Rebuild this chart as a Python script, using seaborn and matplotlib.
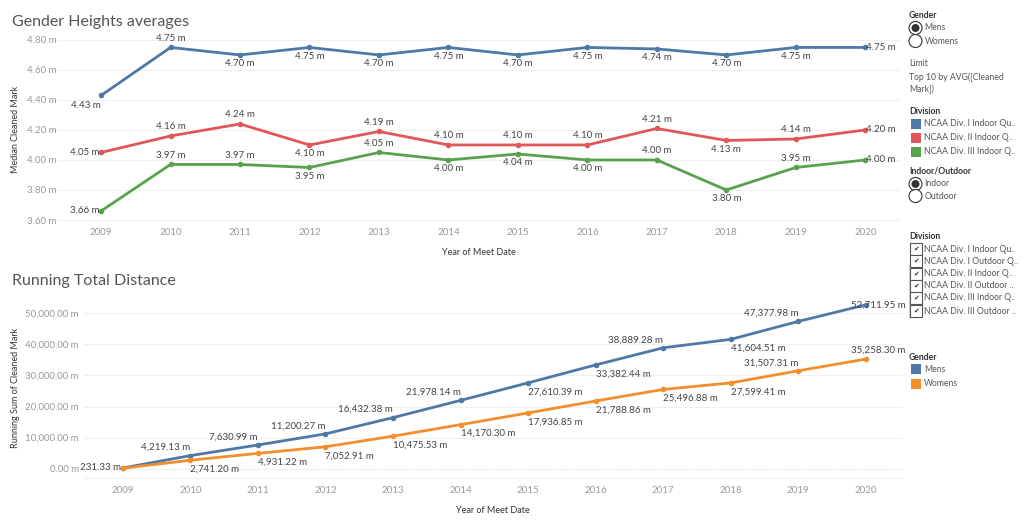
import pandas as pd
import matplotlib.pyplot as plt
import matplotlib.patches as mpatches
import seaborn as sns

# Data
years = list(range(2009, 2021))

div1_heights = [4.43, 4.75, 4.70, 4.75, 4.70, 4.75, 4.70, 4.75, 4.74, 4.70, 4.75, 4.75]
div2_heights = [4.05, 4.16, 4.24, 4.10, 4.19, 4.10, 4.10, 4.10, 4.21, 4.13, 4.14, 4.20]
div3_heights = [3.66, 3.97, 3.97, 3.95, 4.05, 4.00, 4.04, 4.00, 4.00, 3.80, 3.95, 4.00]
div1_pos = ['bR', 'a', 'b', 'b', 'b', 'b', 'b', 'b', 'b', 'b', 'b', 'r']
div2_pos = ['l', 'a', 'a', 'b', 'a', 'a', 'a', 'a', 'a', 'b', 'a', 'r']
div3_pos = ['l', 'a', 'a', 'b', 'a', 'b', 'b', 'b', 'a', 'b', 'a', 'r']

mens_total = [231.33, 4219.13, 7630.99, 11200.27, 16432.38, 21978.14,
              27610.39, 33382.44, 38889.28, 41604.51, 47377.98, 52711.95]
womens_total = [150.0, 2741.20, 4931.22, 7052.91, 10475.53, 14170.30,
                17936.85, 21788.86, 25496.88, 27599.41, 31507.31, 35258.30]
mens_pos = ['l', 'aR', 'aR', 'aR', 'aR', 'aR', 'bL', 'bL', 'aR', 'bL', 'aR', 'rr']
womens_pos = [None, 'bL', 'bL', 'bL', 'bL', 'bL', 'bL', 'bL', 'bL', 'bL', 'aR', 'ra']

division_names = ['NCAA Div. I Indoor Qu..', 'NCAA Div. II Indoor Q..', 'NCAA Div. III Indoor Q..']
division_filter = ['NCAA Div. I Indoor Qu..', 'NCAA Div. I Outdoor Q..', 'NCAA Div. II Indoor Q..',
                   'NCAA Div. II Outdoor ..', 'NCAA Div. III Indoor Q..', 'NCAA Div. III Outdoor ..']

blue, red, green, orange = '#4e79a7', '#e15759', '#59a14f', '#f28e2b'

sns.set_style("white")
plt.rcParams['font.family'] = ['Lato', 'DejaVu Sans']

heights = pd.DataFrame({
    'Year': years * 3,
    'Median': div1_heights + div2_heights + div3_heights,
    'Division': [division_names[0]] * 12 + [division_names[1]] * 12 + [division_names[2]] * 12,
})
totals = pd.DataFrame({
    'Year': years * 2,
    'Total': mens_total + womens_total,
    'Gender': ['Mens'] * 12 + ['Womens'] * 12,
})

W, H = 1023, 526
fig = plt.figure(figsize=(W / 100, H / 100), dpi=100)


def box(x0, y0, x1, y1):
    return [x0 / W, 1 - y1 / H, (x1 - x0) / W, (y1 - y0) / H]


ax1 = fig.add_axes(box(58, 38, 900, 220))
ax2 = fig.add_axes(box(83, 297, 903, 478))

sns.lineplot(data=heights, x='Year', y='Median', hue='Division',
             palette=[blue, red, green], marker='o', markersize=4,
             markeredgewidth=0, linewidth=2, legend=False, ax=ax1)
sns.lineplot(data=totals, x='Year', y='Total', hue='Gender',
             palette=[blue, orange], marker='o', markersize=4,
             markeredgewidth=0, linewidth=2, legend=False, ax=ax2)

# label offsets in pixels (dx, dy up), alignment
offsets = {'a': (0, 9, 'center'), 'b': (0, -9, 'center'),
           'bR': (0, -10, 'right'), 'l': (-2, 0, 'right'), 'r': (1, 0, 'left'),
           'aR': (0, 8, 'right'), 'bL': (0, -9, 'left'),
           'rr': (12, 0, 'center'), 'ra': (12, 9, 'center')}


def label(ax, xs, ys, pos, fmt):
    for x, y, p in zip(xs, ys, pos):
        if p is None:
            continue
        dx, dy, ha = offsets[p]
        ax.annotate(fmt.format(y), (x, y), xytext=(dx * 0.72, dy * 0.72), textcoords='offset points',
                    ha=ha, va='center', fontsize=7, color='#444444')


label(ax1, years, div1_heights, div1_pos, '{:.2f} m')
label(ax1, years, div2_heights, div2_pos, '{:.2f} m')
label(ax1, years, div3_heights, div3_pos, '{:.2f} m')
label(ax2, years, mens_total, mens_pos, '{:,.2f} m')
label(ax2, years, womens_total, womens_pos, '{:,.2f} m')

ax1.set_xlim(2008.38, 2020.5)
ax1.set_ylim(3.6, 4.813)
ticks1 = [3.6, 3.8, 4.0, 4.2, 4.4, 4.6, 4.8]
ax1.set_yticks(ticks1)
ax1.set_yticklabels([f'{v:.2f} m' for v in ticks1])
ax1.set_ylabel('Median Cleaned Mark', fontsize=6.5, color='#333333')
ax1.yaxis.set_label_coords((20 - 58) / 842, 0.5)
ax1.tick_params(axis='y', pad=1)

ax2.set_xlim(2008.41, 2020.55)
ax2.set_ylim(-2990, 55230)
ticks2 = [0, 10000, 20000, 30000, 40000, 50000]
ax2.set_yticks(ticks2)
ax2.set_yticklabels([f'{v:,.2f} m' for v in ticks2])
ax2.set_ylabel('Running Sum of Cleaned Mark', fontsize=6.5, color='#333333')
ax2.yaxis.set_label_coords((20 - 83) / 820, 0.5)
ax2.tick_params(axis='y', pad=3)
ax2.axhline(0, color='#bbbbbb', linestyle=':', linewidth=0.8, zorder=0)

for ax in (ax1, ax2):
    ax.set_xticks(years)
    ax.set_xticklabels([str(y) for y in years])
    ax.set_xlabel('Year of Meet Date', fontsize=6.5, color='#333333', labelpad=8)
    ax.tick_params(axis='both', labelsize=7, labelcolor='#999999', length=0)
    ax.tick_params(axis='x', pad=6)
    ax.grid(axis='y', color='#f0f0f0', linewidth=0.8)
    for s in ('top', 'right', 'left'):
        ax.spines[s].set_visible(False)
    ax.spines['bottom'].set_color('#f0f0f0')
    ax.set_axisbelow(True)

fig.text(12 / W, 1 - 22 / H, 'Gender Heights averages', fontsize=11.5, color='#555555', va='center')
fig.text(12 / W, 1 - 281 / H, 'Running Total Distance', fontsize=11.5, color='#555555', va='center')

# thin scroll edge at right of the lower chart
fig.add_artist(plt.Line2D([909 / W, 909 / W], [1 - 265 / H, 1 - 318 / H], color='#cccccc', linewidth=0.8))


# Right side panel (filters and legends)
def ptext(x, y, s, bold=False):
    fig.text(x / W, 1 - y / H, s, fontsize=6.2, color='#333333' if bold else '#555555',
             fontweight='bold' if bold else 'normal', va='center')


def radio(y, label_txt, on):
    fig.add_artist(mpatches.Ellipse((915.5 / W, 1 - y / H), 13 / W, 13 / H, transform=fig.transFigure,
                                    facecolor='white', edgecolor='#333333', linewidth=0.8))
    if on:
        fig.add_artist(mpatches.Ellipse((915.5 / W, 1 - y / H), 8 / W, 8 / H, transform=fig.transFigure,
                                        facecolor='#333333', edgecolor='none'))
    ptext(924.5, y, label_txt)


def swatch(y, label_txt, color):
    fig.add_artist(mpatches.Rectangle((911 / W, 1 - (y + 5) / H), 10 / W, 10 / H,
                                      transform=fig.transFigure, facecolor=color, edgecolor='none'))
    ptext(924, y, label_txt)


def checkbox(y, label_txt):
    fig.add_artist(mpatches.Rectangle((910 / W, 1 - (y + 6) / H), 12 / W, 12 / H,
                                      transform=fig.transFigure, facecolor='white',
                                      edgecolor='#555555', linewidth=0.8))
    fig.text(916 / W, 1 - y / H, '\u2714', fontsize=5, color='#333333',
             ha='center', va='center', family=['DejaVu Sans'])
    ptext(924, y, label_txt)


ptext(909, 16, 'Gender', bold=True)
radio(28, 'Mens', True)
radio(41, 'Womens', False)

ptext(909, 64, 'Limit')
ptext(909, 77, 'Top 10 by AVG([Cleaned')
ptext(909, 89, 'Mark])')

ptext(909, 112, 'Division', bold=True)
for yy, name, col in zip([124, 138, 152], division_names, [blue, red, green]):
    swatch(yy, name, col)

ptext(909, 171, 'Indoor/Outdoor', bold=True)
radio(184, 'Indoor', True)
radio(196, 'Outdoor', False)

ptext(909, 236, 'Division', bold=True)
for yy, name in zip([249, 261, 274, 286, 298, 311], division_filter):
    checkbox(yy, name)

ptext(909, 357, 'Gender', bold=True)
swatch(369, 'Mens', blue)
swatch(384, 'Womens', orange)

fig.savefig('out.png', dpi=100)
